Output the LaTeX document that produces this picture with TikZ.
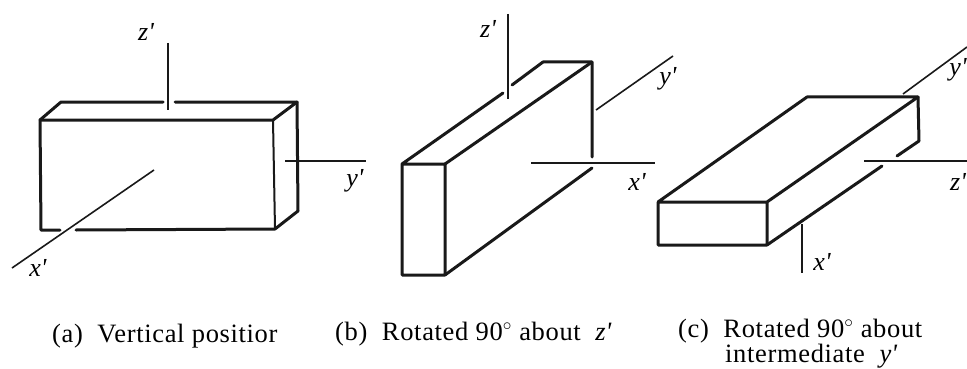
\documentclass[tikz,border=0pt]{standalone}
\usepackage{fontspec}
\setmainfont[LetterSpace=2.5]{Liberation Serif}
\usetikzlibrary{positioning}
\newcommand{\tick}{\textquotesingle}
\begin{document}
\begin{tikzpicture}[
    x=1pt, y=-1pt,
    edge/.style={line width=3pt, line cap=round, line join=round, color=black!90},
    thinedge/.style={line width=2pt, line cap=round, color=black!90},
    axisline/.style={line width=1.6pt, color=black!90},
    lbl/.style={font=\fontsize{26}{26}\selectfont\itshape, inner sep=0pt},
    caption/.style={font=\fontsize{26.5}{26.5}\selectfont, inner sep=0pt, anchor=base west}
  ]
    \useasboundingbox (0,0) rectangle (967,369);
    % (a) vertical position
    \coordinate (aftl) at (40,120);
    \coordinate (aftr) at (273,120);
    \coordinate (afbl) at (41,230);
    \coordinate (afbr) at (275,229);
    \coordinate (abtl) at (61,102);
    \coordinate (abtr) at (297,102);
    \coordinate (abbr) at (298,211);
    \coordinate (agl)  at (60,230);
    \coordinate (agr)  at (76,230);
    \coordinate (atl)  at (163,102);
    \coordinate (atr)  at (175,102);
    \draw[edge] (agl) -- (afbl) -- (aftl) -- (abtl) -- (atl);
    \draw[edge] (atr) -- (abtr) -- (aftr) -- (aftl);
    \draw[edge] (abtr) -- (abbr) -- (afbr) -- (agr);
    \draw[thinedge] (aftr) -- (afbr);
    \coordinate (azt) at (168,43);
    \coordinate (azb) at (168,110);
    \coordinate (ayl) at (285,161);
    \coordinate (ayr) at (366,161);
    \coordinate (axi) at (154,170);
    \coordinate (axo) at (12,268);
    \draw[axisline] (azt) -- (azb);
    \draw[axisline] (ayl) -- (ayr);
    \draw[axisline] (axi) -- (axo);
    \node[lbl] (az) at (146,32) {z\tick};
    \node[lbl] (ay) at (355,181) {y\tick};
    \node[lbl] (ax) at (38,268) {x\tick};
    \node[caption] (capa) at (52,342) {(a)\ \ Vertical positior};
    % (b) rotated about z'
    \coordinate (bftl) at (402,164);
    \coordinate (bftr) at (445,164);
    \coordinate (bfbl) at (402,275);
    \coordinate (bfbr) at (445,275);
    \coordinate (bbtl) at (543,62);
    \coordinate (bbtr) at (592,62);
    \coordinate (bgl)  at (503,93);
    \coordinate (bgr)  at (512,85);
    \coordinate (bbbr) at (592,157);
    \coordinate (bbbl) at (592,168);
    \draw[edge] (bbbr) -- (bbtr) -- (bbtl) -- (bgr);
    \draw[edge] (bgl) -- (bftl) -- (bfbl) -- (bfbr) -- (bftr) -- (bftl);
    \draw[edge] (bftr) -- (bbtr);
    \draw[edge] (bfbr) -- (bbbl);
    \coordinate (bzt) at (508,14);
    \coordinate (bzb) at (508,99);
    \coordinate (byl) at (596,110);
    \coordinate (byr) at (673,56);
    \coordinate (bxl) at (531,163);
    \coordinate (bxr) at (655,163);
    \draw[axisline] (bzt) -- (bzb);
    \draw[axisline] (byl) -- (byr);
    \draw[axisline] (bxl) -- (bxr);
    \node[lbl] (bz) at (488,29) {z\tick};
    \node[lbl] (by) at (668,79) {y\tick};
    \node[lbl] (bx) at (637,182) {x\tick};
    \node[caption] (capb) at (335,340) {(b)\ \ Rotated 90$^\circ$ about\ \ \textit{z\tick}};
    % (c) rotated about intermediate y'
    \coordinate (cftl) at (658,202);
    \coordinate (cftr) at (767,202);
    \coordinate (cfbl) at (658,245);
    \coordinate (cfbr) at (767,245);
    \coordinate (cbtl) at (807,97);
    \coordinate (cbtr) at (918,97);
    \coordinate (cbbr) at (919,141);
    \coordinate (cgl)  at (882,166);
    \coordinate (cgr)  at (897,156);
    \draw[edge] (cftr) -- (cftl) -- (cfbl) -- (cfbr) -- (cftr) -- (cbtr) -- (cbtl) -- (cftl);
    \draw[edge] (cbtr) -- (cbbr) -- (cgr);
    \draw[edge] (cfbr) -- (cgl);
    \coordinate (cyl) at (903,94);
    \coordinate (cyr) at (967,47);
    \coordinate (czl) at (864,161);
    \coordinate (czr) at (967,161);
    \coordinate (cxt) at (802,224);
    \coordinate (cxb) at (802,273);
    \draw[axisline] (cyl) -- (cyr);
    \draw[axisline] (czl) -- (czr);
    \draw[axisline] (cxt) -- (cxb);
    \node[lbl] (cy) at (958,70) {y\tick};
    \node[lbl] (cz) at (958,182) {z\tick};
    \node[lbl] (cx) at (822,262) {x\tick};
    \node[caption] (capc) at (678,337) {(c)\ \ Rotated 90$^\circ$ about};
    \node[caption] (capd) at (725,362) {intermediate\ \ \textit{y\tick}};
\end{tikzpicture}
\end{document}
